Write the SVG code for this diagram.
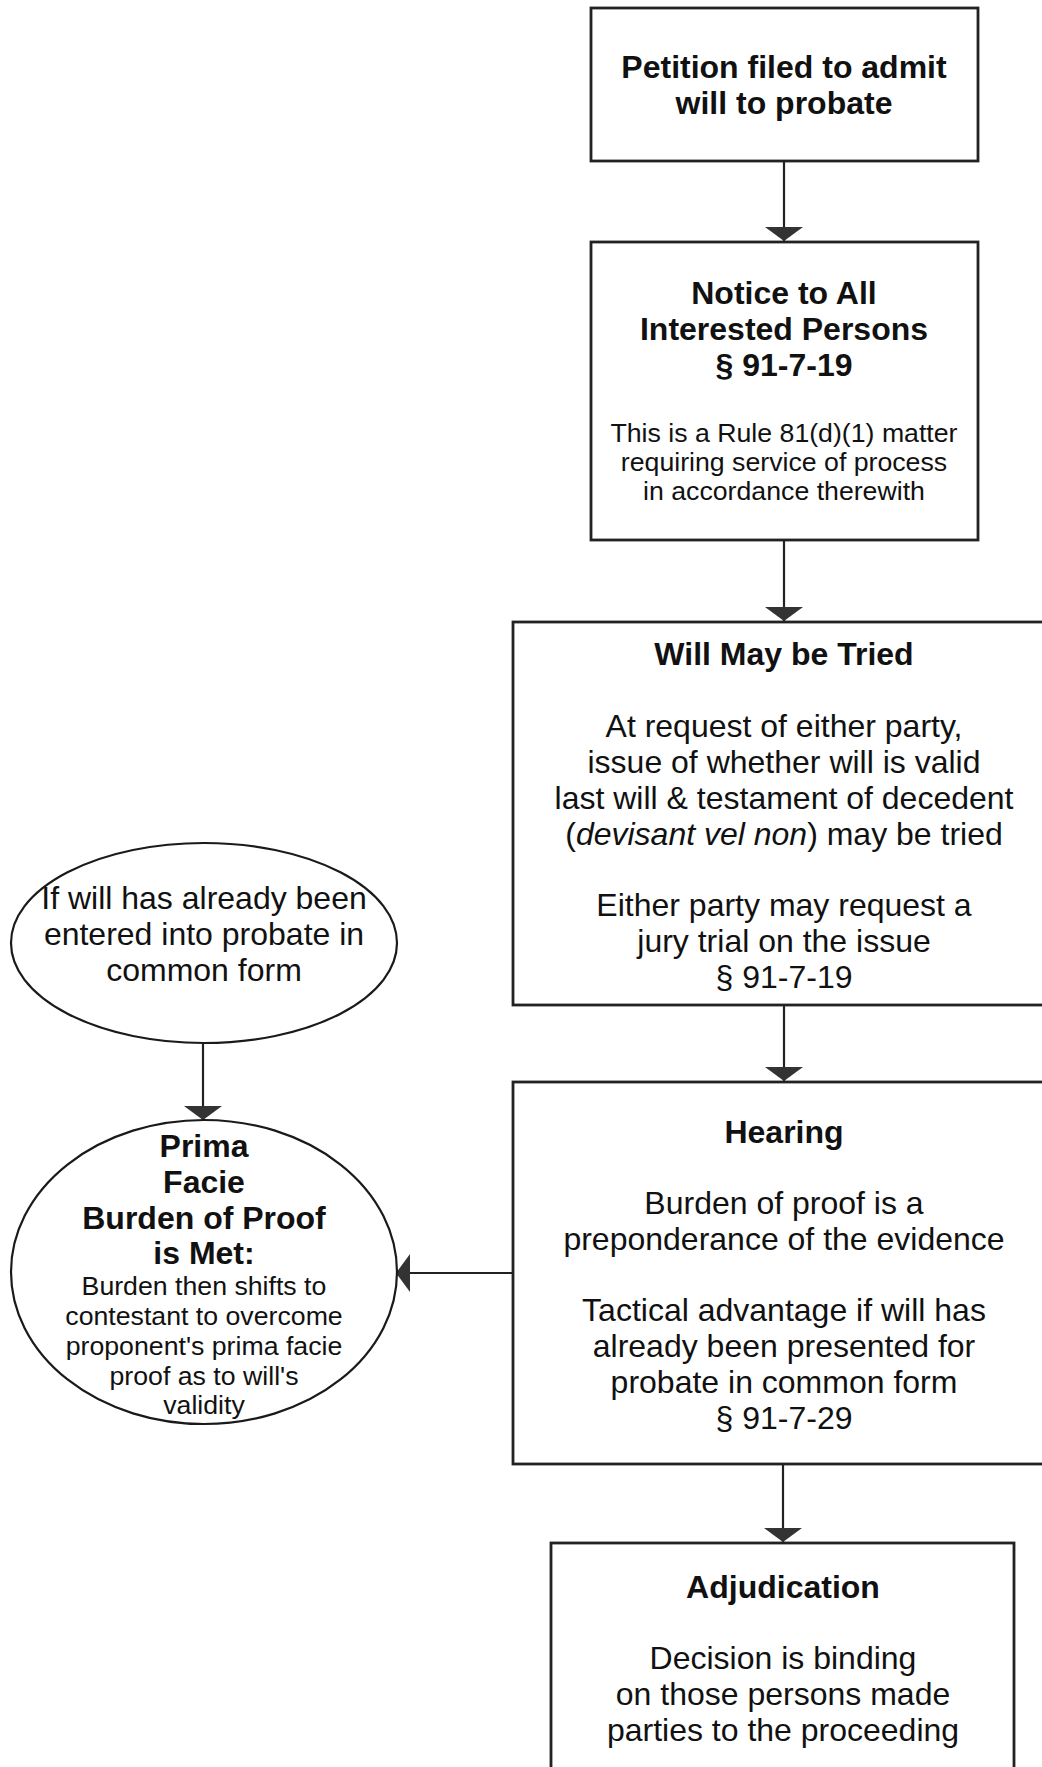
<svg xmlns="http://www.w3.org/2000/svg" width="1042" height="1767" viewBox="0 0 1042 1767">
<style>
.box{fill:#fff;stroke:#222;stroke-width:2.8}
.ell{fill:#fff;stroke:#1a1a1a;stroke-width:2.2}
.edge{fill:none;stroke:#222;stroke-width:2.2}
text{font-family:"Liberation Sans",Arial,sans-serif;fill:#111;text-anchor:middle}
.b{font-weight:bold;font-size:32px}
.r{font-size:32px}
.s{font-size:26.7px}
</style>
<defs>
<marker id="ah" viewBox="0 0 14 38" refX="14" refY="19" markerWidth="14" markerHeight="38" orient="auto" markerUnits="userSpaceOnUse">
<path d="M0,0 L14,19 L0,38 Z" fill="#333"/>
</marker>
</defs>
<rect width="1042" height="1767" fill="#fff"/>
<g id="connectors">
<line class="edge" x1="784" y1="161" x2="784" y2="241" marker-end="url(#ah)"/>
<line class="edge" x1="784" y1="540" x2="784" y2="621" marker-end="url(#ah)"/>
<line class="edge" x1="784" y1="1005" x2="784" y2="1081" marker-end="url(#ah)"/>
<line class="edge" x1="783" y1="1464" x2="783" y2="1542" marker-end="url(#ah)"/>
<line class="edge" x1="203" y1="1043" x2="203" y2="1120" marker-end="url(#ah)"/>
<line class="edge" x1="513" y1="1273" x2="396" y2="1273" marker-end="url(#ah)"/>
</g>
<g id="petition">
<rect class="box" x="591" y="8" width="387" height="153"/>
<text class="b" x="784" y="78">Petition filed to admit</text>
<text class="b" x="784" y="114">will to probate</text>
</g>
<g id="notice">
<rect class="box" x="591" y="242" width="387" height="298"/>
<text class="b" x="784" y="304">Notice to All</text>
<text class="b" x="784" y="340">Interested Persons</text>
<text class="b" x="784" y="376">§ 91-7-19</text>
<text class="s" x="784" y="442">This is a Rule 81(d)(1) matter</text>
<text class="s" x="784" y="471">requiring service of process</text>
<text class="s" x="784" y="500">in accordance therewith</text>
</g>
<g id="tried">
<rect class="box" x="513" y="622" width="541" height="383"/>
<text class="b" x="784" y="665">Will May be Tried</text>
<text class="r" x="784" y="737">At request of either party,</text>
<text class="r" x="784" y="773">issue of whether will is valid</text>
<text class="r" x="784" y="809">last will &amp; testament of decedent</text>
<text class="r" x="784" y="845">(<tspan font-style="italic">devisant vel non</tspan>) may be tried</text>
<text class="r" x="784" y="916">Either party may request a</text>
<text class="r" x="784" y="952">jury trial on the issue</text>
<text class="r" x="784" y="988">§ 91-7-19</text>
</g>
<g id="hearing">
<rect class="box" x="513" y="1082" width="541" height="382"/>
<text class="b" x="784" y="1143">Hearing</text>
<text class="r" x="784" y="1214">Burden of proof is a</text>
<text class="r" x="784" y="1250">preponderance of the evidence</text>
<text class="r" x="784" y="1321">Tactical advantage if will has</text>
<text class="r" x="784" y="1357">already been presented for</text>
<text class="r" x="784" y="1393">probate in common form</text>
<text class="r" x="784" y="1429">§ 91-7-29</text>
</g>
<g id="adjudication">
<rect class="box" x="551" y="1543" width="463" height="260"/>
<text class="b" x="783" y="1598">Adjudication</text>
<text class="r" x="783" y="1669">Decision is binding</text>
<text class="r" x="783" y="1705">on those persons made</text>
<text class="r" x="783" y="1741">parties to the proceeding</text>
</g>
<g id="common-form">
<ellipse class="ell" cx="204" cy="943" rx="193" ry="100"/>
<text class="r" x="204" y="909">If will has already been</text>
<text class="r" x="204" y="945">entered into probate in</text>
<text class="r" x="204" y="981">common form</text>
</g>
<g id="prima-facie">
<ellipse class="ell" cx="204" cy="1272" rx="193" ry="152"/>
<text class="b" x="204" y="1157">Prima</text>
<text class="b" x="204" y="1193">Facie</text>
<text class="b" x="204" y="1229">Burden of Proof</text>
<text class="b" x="204" y="1264">is Met:</text>
<text class="s" x="204" y="1295">Burden then shifts to</text>
<text class="s" x="204" y="1325">contestant to overcome</text>
<text class="s" x="204" y="1355">proponent's prima facie</text>
<text class="s" x="204" y="1385">proof as to will's</text>
<text class="s" x="204" y="1414">validity</text>
</g>
</svg>
